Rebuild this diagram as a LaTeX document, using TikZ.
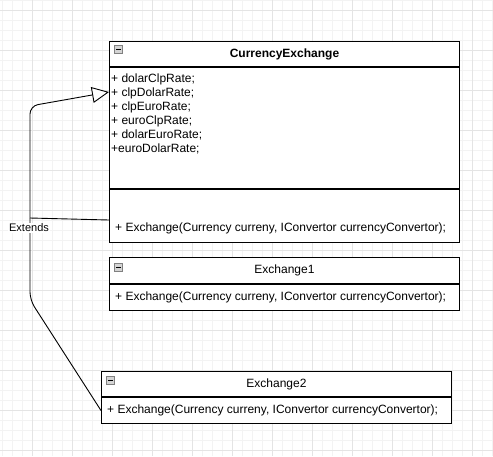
\documentclass[tikz,border=0pt]{standalone}
\usepackage{fontspec}
\setmainfont{Liberation Sans}
\usetikzlibrary{arrows.meta}
\definecolor{gridminor}{RGB}{243,243,243}
\definecolor{gridmajor}{RGB}{228,228,228}
\definecolor{iconfill}{RGB}{212,212,212}

\tikzset{
    classpart/.style={draw, line width=1pt, fill=white, anchor=north west, inner sep=0pt, minimum width=350pt},
    membertext/.style={anchor=west, inner sep=0pt, font=\fontsize{12}{14}\selectfont},
    minusicon/.style={draw=gray, fill=iconfill, minimum size=8pt, inner sep=0pt,
        path picture={\draw[black, line width=0.8pt]
            ([xshift=-2.5pt]path picture bounding box.center) -- ([xshift=2.5pt]path picture bounding box.center);}},
}

\begin{document}
\begin{tikzpicture}[x=1pt, y=-1pt, font=\fontsize{12}{14}\selectfont]
    % Background and grid
    \fill[white] (0,0) rectangle (493,456);
    \useasboundingbox (0,0) rectangle (493,456);
    \foreach \gx in {1.7,11.7,...,491.7} \draw[gridminor] (\gx,0) -- (\gx,456);
    \foreach \gy in {0,10,...,450} \draw[gridminor] (0,\gy) -- (493,\gy);
    \foreach \gx in {31.7,71.7,...,471.7} \draw[gridmajor] (\gx,0) -- (\gx,456);
    \foreach \gy in {10,50,...,450} \draw[gridmajor] (0,\gy) -- (493,\gy);

    % CurrencyExchange class
    \node[classpart, minimum height=25pt] (CE) at (109,41) {};
    \node[classpart, minimum height=121pt] (CEattr) at (CE.south west) {};
    \node[classpart, minimum height=53pt] (CEmeth) at (CEattr.south west) {};
    \node[font=\fontsize{12}{14}\selectfont\bfseries] (CEname) at (CE.center) {CurrencyExchange};
    \node[minusicon] (CEicon) at (118.5,49.5) {};
    % Attributes
    \node[membertext] (attr1) at (111,79) {+ dolarClpRate;};
    \node[membertext] (attr2) at (111,93) {+ clpDolarRate;};
    \node[membertext] (attr3) at (111,107) {+ clpEuroRate;};
    \node[membertext] (attr4) at (111,121) {+ euroClpRate;};
    \node[membertext] (attr5) at (111,135) {+ dolarEuroRate;};
    \node[membertext] (attr6) at (111,149) {+euroDolarRate;};
    % Method
    \node[membertext] (CEop) at (115,228) {+ Exchange(Currency curreny, IConvertor currencyConvertor);};

    % Exchange1 class
    \node[classpart, minimum height=26pt] (E1) at (109,257) {};
    \node[classpart, minimum height=26pt] (E1meth) at (E1.south west) {};
    \node (E1name) at (E1.center) {Exchange1};
    \node[minusicon] (E1icon) at (118.5,267) {};
    \node[membertext] (E1op) at (115,297) {+ Exchange(Currency curreny, IConvertor currencyConvertor);};

    % Exchange2 class
    \node[classpart, minimum height=25pt] (E2) at (101,371) {};
    \node[classpart, minimum height=26pt] (E2meth) at (E2.south west) {};
    \node (E2name) at (E2.center) {Exchange2};
    \node[minusicon] (E2icon) at (110.5,380) {};
    \node[membertext] (E2op) at (107,410) {+ Exchange(Currency curreny, IConvertor currencyConvertor);};

    % Extends connectors
    \coordinate (bendlow) at (30,300);
    \coordinate (bendhigh) at (30,106);
    \coordinate (join) at (30,218);
    \draw[line width=0.9pt, rounded corners=8pt, -{Triangle[length=17pt, width=16pt, fill=white]}]
        (E2meth.west) -- (bendlow) -- (bendhigh) -- ([yshift=-25pt]CEattr.north west);
    \draw[line width=0.9pt] ([yshift=-31pt]CEmeth.north west) -- (join);

    % Label
    \node[fill=white, inner sep=1pt, font=\fontsize{11}{13}\selectfont] (extlabel) at (29,228) {Extends};
\end{tikzpicture}
\end{document}
